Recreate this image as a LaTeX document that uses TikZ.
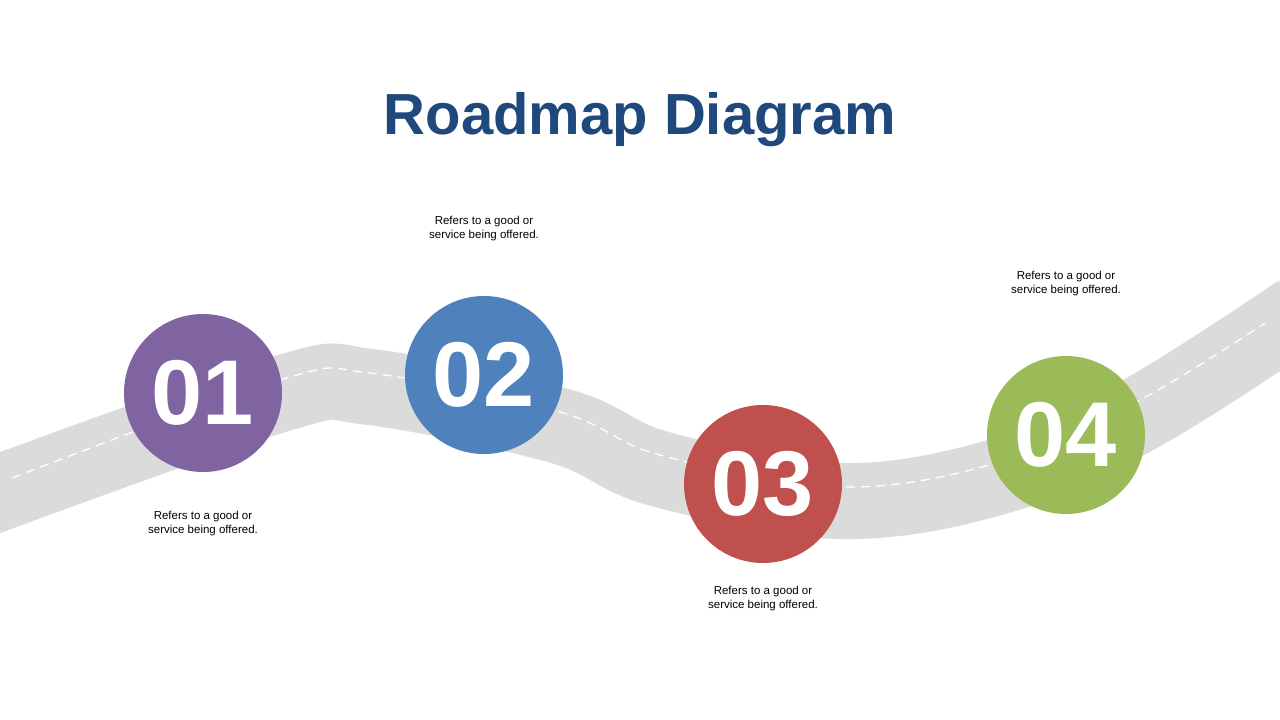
\documentclass[tikz,border=0pt]{standalone}
\usepackage{fontspec}
\setmainfont{Liberation Sans}
\begin{document}
\begin{tikzpicture}[x=1pt,y=-1pt,
  num/.style={circle,minimum size=158pt,inner sep=0pt,text=white,font=\fontsize{92}{92}\selectfont\bfseries},
  desc/.style={align=center,font=\fontsize{11.5}{14}\selectfont}]
\path[use as bounding box,fill=white] (0,0) rectangle (1280,720);
\begin{scope}
\clip (0,0) rectangle (1280,720);
\draw[line width=76pt,color=black!14] plot[smooth,tension=0.6] coordinates {(-20,500) (280,394) (370,387) (560,426) (660,469) (840,501) (1000,476) (1140,414) (1300,312)};
\draw[white,line width=1.3pt,dash pattern=on 9pt off 6pt] plot[smooth,tension=0.6] coordinates {(12,478) (280,380) (370,373) (560,412) (660,455) (840,487) (1000,462) (1140,400) (1265,323)};
\end{scope}
\node[font=\fontsize{58}{58}\selectfont\bfseries,text={rgb,255:red,31;green,73;blue,125}] (title) at (640,120) {Roadmap Diagram};
\node[num,fill={rgb,255:red,128;green,100;blue,162}] (n1) at (203,393) {01};
\node[num,fill={rgb,255:red,79;green,129;blue,189}] (n2) at (484,375) {02};
\node[num,fill={rgb,255:red,192;green,80;blue,77}] (n3) at (763,484) {03};
\node[num,fill={rgb,255:red,155;green,187;blue,89}] (n4) at (1066,435) {04};
\node[desc] (d1) at (203,524) {Refers to a good or\\service being offered.};
\node[desc] (d2) at (484,229) {Refers to a good or\\service being offered.};
\node[desc] (d3) at (763,599) {Refers to a good or\\service being offered.};
\node[desc] (d4) at (1066,284) {Refers to a good or\\service being offered.};
\end{tikzpicture}
\end{document}
